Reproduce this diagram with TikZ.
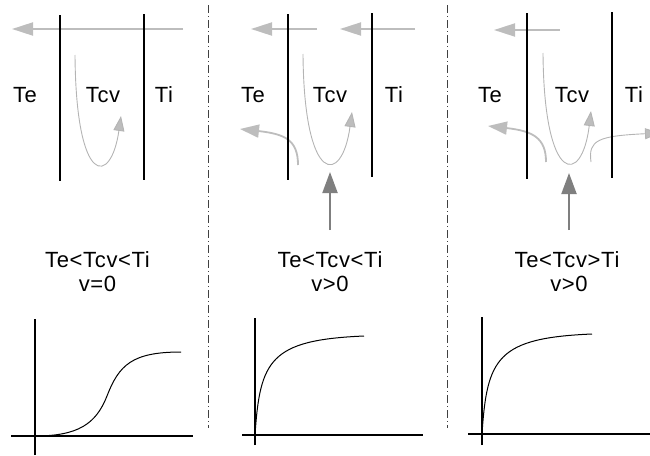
\documentclass[tikz,border=0pt]{standalone}
\usepackage{fontspec}
\setmainfont{Liberation Sans}
\newfontfamily\lblfont[LetterSpace=3]{Liberation Sans}
\usetikzlibrary{arrows.meta}
\definecolor{flowgray}{HTML}{BDBDBD}
\definecolor{ugray}{HTML}{B4B4B4}
\definecolor{pushgray}{HTML}{7F7F7F}
\definecolor{divgray}{HTML}{404040}
\begin{document}
\begin{tikzpicture}[x=1pt,y=-1pt,
  wall/.style={line width=2pt, black},
  flow/.style={draw=flowgray, line width=2pt, -{Triangle[length=21pt,width=13pt]}},
  sideflow/.style={draw=flowgray, line width=1.8pt, -{Triangle[length=19pt,width=13pt]}},
  thinflow/.style={draw=ugray, line width=0.9pt, -{Triangle[length=15pt,width=11pt,fill=flowgray]}},
  push/.style={draw=pushgray, line width=2pt, -{Triangle[length=21pt,width=15pt]}},
  axis/.style={line width=1.6pt, black},
  curve/.style={line width=1pt, black},
  divider/.style={draw=divgray, line width=0.8pt, dash pattern=on 8pt off 3pt on 1pt off 3pt},
  lbl/.style={inner sep=0pt, font=\lblfont\fontsize{22}{26}\selectfont}
]
\useasboundingbox (0,0) rectangle (650,455);

% ---------- dividers ----------
\coordinate (d1t) at (208,5);   \coordinate (d1b) at (208,428);
\coordinate (d2t) at (447,5);   \coordinate (d2b) at (447,428);
\draw[divider] (d1t) -- (d1b);
\draw[divider] (d2t) -- (d2b);

% ================= Panel 1 =================
\coordinate (a1s) at (183,29); \coordinate (a1e) at (12,29);
\draw[flow] (a1s) -- (a1e);
\coordinate (u1s) at (75,55); \coordinate (u1e) at (121,116);
\draw[thinflow] (u1s) .. controls (76,188) and (111,186) .. (u1e);
\coordinate (w1at) at (60,15);  \coordinate (w1ab) at (60,181);
\coordinate (w1bt) at (144,14); \coordinate (w1bb) at (144,180);
\draw[wall] (w1at) -- (w1ab);
\draw[wall] (w1bt) -- (w1bb);
\node[lbl] (te1) at (25,95) {Te};
\node[lbl] (tcv1) at (103,95) {Tcv};
\node[lbl] (ti1) at (164,95) {Ti};
\node[lbl] (c1) at (97.5,260) {Te<Tcv<Ti};
\node[lbl] (v1) at (97.5,284) {v=0};
% graph 1
\coordinate (g1y0) at (35,455); \coordinate (g1y1) at (35,319);
\coordinate (g1x0) at (11,436); \coordinate (g1x1) at (193,436);
\draw[axis] (g1y0) -- (g1y1);
\draw[axis] (g1x0) -- (g1x1);
\coordinate (g1s) at (35,436); \coordinate (g1e) at (181,352);
\draw[curve] (g1s) .. controls (78,436) and (96,424) .. (107,396)
  .. controls (119,365) and (132,352) .. (g1e);

% ================= Panel 2 =================
\coordinate (a2s) at (317,29); \coordinate (a2e) at (251,29);
\draw[flow] (a2s) -- (a2e);
\coordinate (a3s) at (415,29); \coordinate (a3e) at (340,29);
\draw[flow] (a3s) -- (a3e);
\coordinate (l2s) at (298,165); \coordinate (l2e) at (240,129);
\draw[sideflow] (l2s) .. controls (298,140) and (285,134) .. (l2e);
\coordinate (u2s) at (303,54); \coordinate (u2e) at (352,112);
\draw[thinflow] (u2s) .. controls (304,186) and (342,186) .. (u2e);
\coordinate (p2s) at (330,230); \coordinate (p2e) at (330,172);
\draw[push] (p2s) -- (p2e);
\coordinate (w2at) at (288,14);  \coordinate (w2ab) at (288,180);
\coordinate (w2bt) at (372,13);  \coordinate (w2bb) at (372,177);
\draw[wall] (w2at) -- (w2ab);
\draw[wall] (w2bt) -- (w2bb);
\node[lbl] (te2) at (253,95) {Te};
\node[lbl] (tcv2) at (330,95) {Tcv};
\node[lbl] (ti2) at (394,95) {Ti};
\node[lbl] (c2) at (330,260) {Te<Tcv<Ti};
\node[lbl] (v2) at (330,284) {v>0};
% graph 2
\coordinate (g2y0) at (255,445); \coordinate (g2y1) at (255,318);
\coordinate (g2x0) at (242,435); \coordinate (g2x1) at (423,435);
\draw[axis] (g2y0) -- (g2y1);
\draw[axis] (g2x0) -- (g2x1);
\coordinate (g2s) at (255,435); \coordinate (g2e) at (364,336);
\draw[curve] (g2s) .. controls (260,360) and (270,340) .. (g2e);

% ================= Panel 3 =================
\coordinate (a4s) at (560,30); \coordinate (a4e) at (494,30);
\draw[flow] (a4s) -- (a4e);
\coordinate (l3s) at (546,162); \coordinate (l3e) at (488,126);
\draw[sideflow] (l3s) .. controls (546,138) and (533,131) .. (l3e);
\coordinate (u3s) at (543,53); \coordinate (u3e) at (591,111);
\draw[thinflow] (u3s) .. controls (544,186) and (582,186) .. (u3e);
\coordinate (r3s) at (591,162); \coordinate (r3e) at (660,133);
\draw[thinflow] (r3s) .. controls (588,140) and (598,136) .. (r3e);
\coordinate (p3s) at (569,230); \coordinate (p3e) at (569,173);
\draw[push] (p3s) -- (p3e);
\coordinate (w3at) at (527,13);  \coordinate (w3ab) at (527,179);
\coordinate (w3bt) at (612,12);  \coordinate (w3bb) at (612,178);
\draw[wall] (w3at) -- (w3ab);
\draw[wall] (w3bt) -- (w3bb);
\node[lbl] (te3) at (490,95) {Te};
\node[lbl] (tcv3) at (572,95) {Tcv};
\node[lbl] (ti3) at (634,95) {Ti};
\node[lbl] (c3) at (567,260) {Te<Tcv>Ti};
\node[lbl] (v3) at (569,284) {v>0};
% graph 3
\coordinate (g3y0) at (482,445); \coordinate (g3y1) at (482,317);
\coordinate (g3x0) at (468,434); \coordinate (g3x1) at (650,434);
\draw[axis] (g3y0) -- (g3y1);
\draw[axis] (g3x0) -- (g3x1);
\coordinate (g3s) at (482,434); \coordinate (g3e) at (592,334);
\draw[curve] (g3s) .. controls (487,358) and (497,338) .. (g3e);
\end{tikzpicture}
\end{document}
